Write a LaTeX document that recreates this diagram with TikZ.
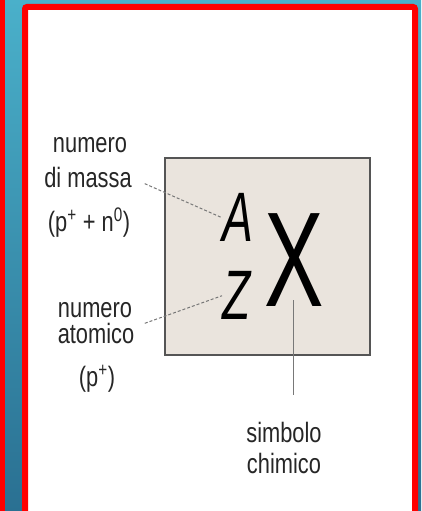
\documentclass[tikz,border=0pt]{standalone}
\usepackage{fontspec}
\setmainfont{Liberation Sans}[FakeStretch=0.78]
\newfontfamily\bigletters{Liberation Sans}[FakeStretch=0.66]
\usetikzlibrary{positioning}
\definecolor{bgtop}{RGB}{74,176,202}
\definecolor{bgbot}{RGB}{42,112,146}
\definecolor{framered}{RGB}{255,0,0}
\definecolor{boxfill}{RGB}{234,228,221}
\definecolor{boxline}{RGB}{85,85,85}
\definecolor{leadgray}{RGB}{120,120,120}

\begin{document}
\begin{tikzpicture}[
        x=1pt, y=-1pt,
        lbl/.style={font=\fontsize{28}{28}\selectfont, text=black!85, inner sep=0pt, anchor=base},
        sym/.style={font=\bigletters\fontsize{70}{70}\selectfont, inner sep=0pt, anchor=south west},
        leader/.style={draw=leadgray, line width=1pt, dash pattern=on 3pt off 2pt},
        stem/.style={draw=leadgray, line width=1pt},
    ]
        \useasboundingbox (0,0) rectangle (421,511);
        \clip (0,0) rectangle (421,511);
        \shade[top color=bgtop, bottom color=bgbot] (0,0) rectangle (421,511);
        \fill[framered] (0,0) rectangle (5,511);
        \draw[framered, fill=white, line width=6pt, rounded corners=2pt] (25,7) rectangle (415,530);
        \draw[boxline, fill=boxfill, line width=1.5pt] (165,158) rectangle (370,355);

        \node[sym] (A) at (222,242) {\itshape A};
        \node[sym] (Z) at (222,320) {\itshape Z};
        \node[sym, font=\bigletters\fontsize{135}{135}\selectfont] (X) at (264,307) {X};

        \node[lbl] (numeroA) at (90,152) {numero};
        \node[lbl] (dimassa) at (88,187) {di massa};
        \node[lbl] (formA) at (89,231) {(p\textsuperscript{+} + n\textsuperscript{0})};
        \node[lbl] (numeroZ) at (95,317) {numero};
        \node[lbl] (atomico) at (96,343) {atomico};
        \node[lbl] (formZ) at (97,386) {(p\textsuperscript{+})};
        \node[lbl] (simbolo) at (284,442) {simbolo};
        \node[lbl] (chimico) at (284,473) {chimico};
        \coordinate (stemend) at (X.south |- 0,395);

        \draw[leader, shorten <=14pt] ([yshift=-1pt]dimassa.east) -- (A.west);
        \draw[leader, shorten <=11pt] ([yshift=6pt]atomico.east) -- (Z.west);
        \draw[stem] ([yshift=7pt]X.south) -- (stemend);
    \end{tikzpicture}
\end{document}
